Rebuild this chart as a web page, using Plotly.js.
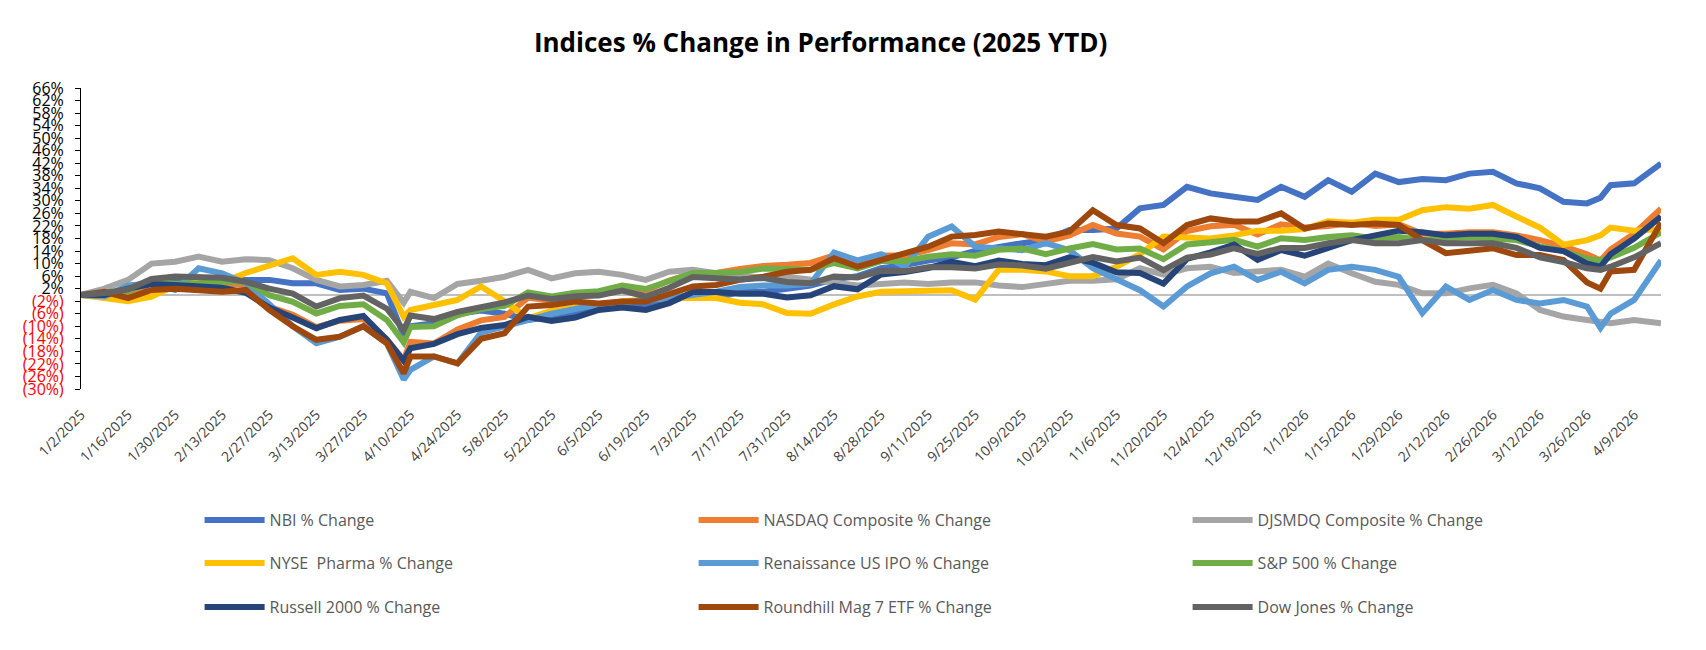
<!DOCTYPE html>
<html>
<head>
<meta charset="utf-8">
<script src="https://cdn.plot.ly/plotly-3.0.1.min.js"></script>
<style>
  html, body { margin: 0; padding: 0; background: #fff; }
  #chart { width: 1706px; height: 650px; }
</style>
</head>
<body>
<div id="chart"></div>
<script>
/*
 Data (% change since 1/2/2025, roughly weekly)
*/

var dates = ["2025-01-02","2025-01-09","2025-01-16","2025-01-23","2025-01-30","2025-02-06","2025-02-13","2025-02-20","2025-02-27","2025-03-06","2025-03-13","2025-03-20","2025-03-27","2025-04-03","2025-04-08","2025-04-10","2025-04-17","2025-04-24","2025-05-01","2025-05-08","2025-05-15","2025-05-22","2025-05-29","2025-06-05","2025-06-12","2025-06-19","2025-06-26","2025-07-03","2025-07-10","2025-07-17","2025-07-24","2025-07-31","2025-08-07","2025-08-14","2025-08-21","2025-08-28","2025-09-04","2025-09-11","2025-09-18","2025-09-25","2025-10-02","2025-10-09","2025-10-16","2025-10-23","2025-10-30","2025-11-06","2025-11-13","2025-11-20","2025-11-27","2025-12-04","2025-12-11","2025-12-18","2025-12-25","2026-01-01","2026-01-08","2026-01-15","2026-01-22","2026-01-29","2026-02-05","2026-02-12","2026-02-19","2026-02-26","2026-03-05","2026-03-12","2026-03-19","2026-03-26","2026-03-30","2026-04-02","2026-04-09","2026-04-17"];

var nbi = [0,-0.5,-0.5,4,4.5,4.8,4.2,4.8,4.8,3.7,3.7,1.6,2,0.5,-13,-10,-9,-6,-5,-6,-8,-7,-6,-4,-3,-3,-2,0,-1,1,1,2,3,5,6,8.5,9.5,11,12,14,15.4,16.5,17.5,20.7,20.7,21.2,27.6,28.7,34.5,32.4,31.3,30.3,34.5,31.3,36.6,32.9,38.7,36,37,36.6,38.7,39.3,35.6,34,29.7,29.2,31,35,35.6,41.9];
var nasdaq = [0,1,0.3,4,2,2.7,3.5,3.5,-3.8,-6.3,-10.3,-8.2,-7.7,-14.2,-20.8,-15,-15.5,-11,-8.1,-7,-0.9,-1.8,-0.5,0.1,2,1.4,4.6,6.9,7,8.3,9.2,9.6,10.2,12.6,9.4,12.6,12.6,14.3,16.5,16.1,18.5,19.4,17,19,22.3,19.6,18.6,14.5,20.4,21.9,22.4,19.3,22.5,21.5,22,23,22,22.5,19.5,19.5,20,20,19,17.5,15.5,13,11,14.5,19.5,27.5];
var djsmdq = [0,2,4.8,10,10.6,12.2,10.6,11.4,11.1,8.5,4.8,2.7,3.2,4.5,-2.5,1,-1,3.5,4.5,5.8,8,5.3,6.9,7.4,6.4,4.8,7.4,8,6.9,6,5.5,5.8,5,4,3,3.5,4,3.5,4,4,3,2.5,3.5,4.5,4.5,5,8.5,6.5,8.5,9,7,7.5,8,5.8,10,6.9,4.2,3.2,0.5,0.5,2.1,3.2,0.5,-4.8,-6.9,-8,-8.5,-9,-8,-9];
var pharma = [0,-1,-2,-0.5,3,4,4,7,9.5,11.7,6.4,7.4,6.4,3.7,-7,-4.8,-3.2,-1.6,2.7,-2,-7.5,-5,-4,-3,-2,-1.5,-1,-1,-1,-2.5,-3,-5.8,-6,-3,-0.5,1,1.3,1.5,1.5,-1.5,8,8,7.5,6,6,9,13,18.6,18.5,18,19,20.5,20.5,21,23.5,23,24,24,27,28,27.5,28.7,25,21.5,16,17.5,19,21.5,20.5,21];
var ipo = [0,-0.5,3,3.7,1.6,8.5,6.9,3.7,-3,-10,-15.4,-13.3,-10,-15.4,-27,-23.9,-19.6,-21.8,-12,-10,-8,-6,-4.5,-3,-2.5,-1.5,-1,0,1,2.5,3,3,3.5,13.5,11,13,9,18.6,21.8,15.4,14.9,14.3,16.5,14.3,8.5,4.8,1.5,-3.7,2.7,6.9,9,4.8,7.4,3.7,8,9,8,5.8,-5.8,2.7,-1.6,1.6,-1.6,-2.7,-1.6,-3.7,-10.5,-6,-1.6,11];
var sp500 = [0,0.8,1.2,4.3,3.5,3.7,4.2,4.2,-0.1,-2.2,-5.9,-3.5,-3,-8,-15.1,-10.2,-10,-6.5,-4.5,-3.5,0.8,-0.5,0.7,1.2,3,1.9,4.6,7,7,7.3,8.4,8,8,10.2,8.5,10.8,10.8,12.2,13,12.5,14.4,14.8,13,14.8,16.2,14.5,14.8,11.4,16.1,16.8,17.6,15.4,18.1,17.5,18.5,19,18,18.5,17.5,18,18.5,18,17.5,15.5,14,11.5,11,12,15,20];
var russell = [0,0,2,3.5,3.2,2.6,2.3,0.7,-4,-7.2,-10.6,-8,-6.7,-14.3,-21,-17,-15.6,-12.5,-10.5,-9.6,-7,-8.3,-7.2,-4.8,-4,-4.8,-2.6,0.9,0.9,0.4,0.4,-0.8,-0.1,2.8,1.8,6.5,7.3,8.6,10.6,9.2,11,9.9,9.5,12,10.3,7.2,7,3.6,11.5,13.6,16.1,11.2,14.3,12.5,15,17.5,19,20.5,20,19,19.5,19.5,18.5,15,14,10,9,13,18,25];
var mag7 = [0,1,-1,1.6,2,1.6,1,1.6,-4.8,-10,-14.3,-13.3,-10,-15.4,-25,-19.6,-19.6,-21.8,-14,-12.2,-3.7,-3.2,-2.1,-2.7,-2.1,-2.1,0.5,2.7,3.2,4.8,5.8,7.4,8,11.7,9,11.1,13.3,15.4,18.6,19.1,20.2,19.6,18.6,20.2,27,22.3,21.2,16.5,22.3,24.4,23.4,23.4,26,21.2,22.8,22.3,22.8,22.3,17.5,13.3,14.3,14.9,12.7,12.7,11.1,4,2,7.5,8,23];
var dow = [0,0.6,1.8,5.1,5.9,5.6,5.5,4.2,2,0.4,-3.7,-1,-0.2,-4.4,-11.2,-6.6,-7.7,-5.4,-3.9,-2.4,-0.2,-1.3,-0.4,-0.2,1.4,-0.5,2.3,5.7,5.3,4.9,5.4,4.1,3.7,5.9,5.6,7.7,7.6,8.8,8.8,8.4,9.7,9.4,8.4,10.2,12.1,10.7,11.9,7.9,11.9,12.9,14.9,13.1,15,15,16.5,17.5,16.5,16.5,17.5,16.5,16.5,16.5,15,12,10.5,8.5,8,9,12,16.5];

var names = ["NBI % Change", "NASDAQ Composite % Change", "DJSMDQ Composite % Change",
             "NYSE  Pharma % Change", "Renaissance US IPO % Change", "S&P 500 % Change",
             "Russell 2000 % Change", "Roundhill Mag 7 ETF % Change", "Dow Jones % Change"];
var colors = ["#4472C4", "#ED7D31", "#A5A5A5", "#FFC000", "#5B9BD5", "#70AD47",
              "#264478", "#9E480E", "#636363"];
var series = [nbi, nasdaq, djsmdq, pharma, ipo, sp500, russell, mag7, dow];

/*
 Axis ticks
*/

var xTickVals = ["2025-01-02","2025-01-16","2025-01-30","2025-02-13","2025-02-27","2025-03-13","2025-03-27","2025-04-10","2025-04-24","2025-05-08","2025-05-22","2025-06-05","2025-06-19","2025-07-03","2025-07-17","2025-07-31","2025-08-14","2025-08-28","2025-09-11","2025-09-25","2025-10-09","2025-10-23","2025-11-06","2025-11-20","2025-12-04","2025-12-18","2026-01-01","2026-01-15","2026-01-29","2026-02-12","2026-02-26","2026-03-12","2026-03-26","2026-04-09"];
var xTickText = ["1/2/2025","1/16/2025","1/30/2025","2/13/2025","2/27/2025","3/13/2025","3/27/2025","4/10/2025","4/24/2025","5/8/2025","5/22/2025","6/5/2025","6/19/2025","7/3/2025","7/17/2025","7/31/2025","8/14/2025","8/28/2025","9/11/2025","9/25/2025","10/9/2025","10/23/2025","11/6/2025","11/20/2025","12/4/2025","12/18/2025","1/1/2026","1/15/2026","1/29/2026","2/12/2026","2/26/2026","3/12/2026","3/26/2026","4/9/2026"];

var yTickVals = [66, 62, 58, 54, 50, 46, 42, 38, 34, 30, 26, 22, 18, 14, 10, 6, 2,
                 -2, -6, -10, -14, -18, -22, -26, -30];
var yTickText = yTickVals.map(function(v) {
  if (v < 0) return '<span style="color:#FF0000">(' + Math.abs(v) + '%)</span>';
  return v + '%';
});

/*
 Chart
*/

var legendIds = ["legend", "legend", "legend", "legend2", "legend2", "legend2",
                 "legend3", "legend3", "legend3"];

var data = series.map(function(vals, i) {
  return {
    x: dates,
    y: vals,
    name: names[i],
    type: "scatter",
    mode: "lines",
    line: { color: colors[i], width: 6 },
    legend: legendIds[i],
    hoverinfo: "skip"
  };
});

function legendRow(y) {
  return {
    orientation: "h",
    xref: "container",
    x: 0.117,
    xanchor: "left",
    yref: "container",
    y: y,
    yanchor: "middle",
    entrywidth: 419,
    entrywidthmode: "pixels",
    itemwidth: 60,
    bgcolor: "rgba(0,0,0,0)",
    font: { family: "Open Sans", size: 16, color: "#595959" }
  };
}

var layout = {
  width: 1706,
  height: 650,
  margin: { l: 81, r: 45, t: 88, b: 261 },
  paper_bgcolor: "#fff",
  plot_bgcolor: "#fff",
  showlegend: true,
  title: {
    text: "Indices % Change in Performance (2025 YTD)",
    font: { family: "Open Sans", size: 26, color: "#000", weight: "bold" },
    xref: "container", x: 0.481, xanchor: "center",
    yref: "container", y: 0.934, yanchor: "middle"
  },
  xaxis: {
    type: "date",
    range: ["2025-01-02", "2026-04-17"],
    tickmode: "array",
    tickvals: xTickVals,
    ticktext: xTickText,
    tickangle: -45,
    tickfont: { family: "Open Sans", size: 14, color: "#404040" },
    ticklabelstandoff: 14,
    showgrid: false,
    zeroline: false,
    showline: false,
    ticks: ""
  },
  yaxis: {
    range: [-30, 66],
    tickmode: "array",
    tickvals: yTickVals,
    ticktext: yTickText,
    tickfont: { family: "Open Sans", size: 16, color: "#000" },
    showgrid: false,
    zeroline: true,
    zerolinecolor: "#BFBFBF",
    zerolinewidth: 2,
    showline: true,
    linecolor: "#000",
    linewidth: 1,
    ticks: "outside",
    ticklen: 5,
    tickcolor: "#000",
    ticklabelstandoff: 8
  },
  legend: legendRow(1 - 520 / 650),
  legend2: legendRow(1 - 563 / 650),
  legend3: legendRow(1 - 607 / 650)
};

var config = { displayModeBar: false, staticPlot: true };

Plotly.newPlot("chart", data, layout, config);
</script>
</body>
</html>
